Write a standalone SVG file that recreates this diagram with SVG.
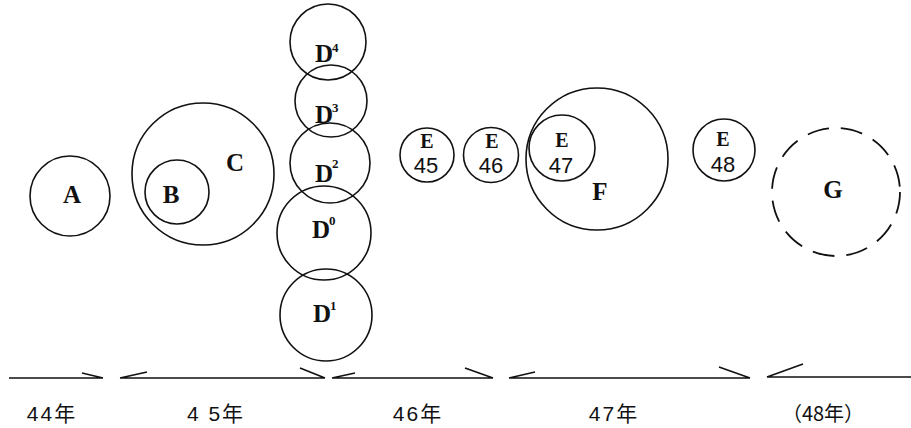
<svg xmlns="http://www.w3.org/2000/svg" width="911" height="428" viewBox="0 0 911 428">
<style>
.c{fill:none;stroke:#111;stroke-width:1.6}
.d{fill:none;stroke:#111;stroke-width:1.8;stroke-dasharray:22 12}
.L{font-family:"Liberation Serif","DejaVu Serif",serif;font-weight:bold;font-size:25px;fill:#111;text-anchor:middle}
.E{font-family:"Liberation Serif","DejaVu Serif",serif;font-weight:bold;font-size:20px;fill:#111;text-anchor:middle}
.n{font-family:"Liberation Sans","DejaVu Sans",sans-serif;font-size:22px;fill:#111;text-anchor:middle}
.s{font-family:"Liberation Serif","DejaVu Serif",serif;font-weight:bold;font-size:13px;fill:#111}
.t{fill:none;stroke:#111;stroke-width:1.6}
.y{font-family:"Liberation Sans","Noto Sans CJK JP",sans-serif;font-size:21px;fill:#111;text-anchor:middle;letter-spacing:2px}
.p{font-family:"Noto Sans CJK JP",sans-serif;font-size:20px;fill:#111;text-anchor:middle}
</style>
<rect width="911" height="428" fill="#fff"/>
<g id="A"><circle class="c" cx="70" cy="196" r="40"/><text class="L" x="72" y="203">A</text></g>
<g id="C"><circle class="c" cx="203" cy="174" r="71"/><text class="L" x="235" y="171">C</text></g>
<g id="B"><circle class="c" cx="177" cy="192" r="32"/><text class="L" x="171" y="203">B</text></g>
<g id="D4"><circle class="c" cx="328" cy="42" r="38"/><text class="L" x="324" y="62">D</text><text class="s" x="332" y="52">4</text></g>
<g id="D3"><circle class="c" cx="331" cy="101" r="36"/><text class="L" x="324" y="123">D</text><text class="s" x="332" y="112">3</text></g>
<g id="D2"><circle class="c" cx="330" cy="163" r="40"/><text class="L" x="324" y="182">D</text><text class="s" x="332" y="168">2</text></g>
<g id="D0"><circle class="c" cx="324" cy="233" r="47"/><text class="L" x="321" y="238">D</text><text class="s" x="329" y="225">0</text></g>
<g id="D1"><circle class="c" cx="326" cy="315" r="46"/><text class="L" x="322" y="322">D</text><text class="s" x="330" y="310">1</text></g>
<g id="E45"><circle class="c" cx="427" cy="155" r="27"/><text class="E" x="427" y="148">E</text><text class="n" x="426" y="173">45</text></g>
<g id="E46"><circle class="c" cx="491" cy="155" r="27.5"/><text class="E" x="492" y="148">E</text><text class="n" x="491" y="173">46</text></g>
<g id="F"><circle class="c" cx="597" cy="159" r="71"/><text class="L" x="600" y="200">F</text></g>
<g id="E47"><circle class="c" cx="562" cy="148" r="33"/><text class="E" x="562" y="147">E</text><text class="n" x="561" y="173">47</text></g>
<g id="E48"><circle class="c" cx="724" cy="150" r="31"/><text class="E" x="723" y="146">E</text><text class="n" x="723" y="172">48</text></g>
<g id="G"><circle class="d" cx="836" cy="192" r="64"/><text class="L" x="833" y="198">G</text></g>
<g id="connectors">
<path class="t" d="M9,378 H103 M82,373 L103,378"/>
<path class="t" d="M120,378 H325 M147,372 L120,378 M300,368 L325,378"/>
<path class="t" d="M332,378 H493 M355,373 L332,378 M465,368 L493,378"/>
<path class="t" d="M509,378 H750 M535,372 L509,378 M719,367 L750,378"/>
<path class="t" d="M767,377 H911 M803,364 L767,377"/>
</g>
<g id="years">
<text class="y" x="52" y="421">44年</text>
<text class="y" x="216" y="421">4 5年</text>
<text class="y" x="418" y="421">46年</text>
<text class="y" x="614" y="421">47年</text>
<text class="p" x="823" y="421">（48年）</text>
</g>
</svg>
